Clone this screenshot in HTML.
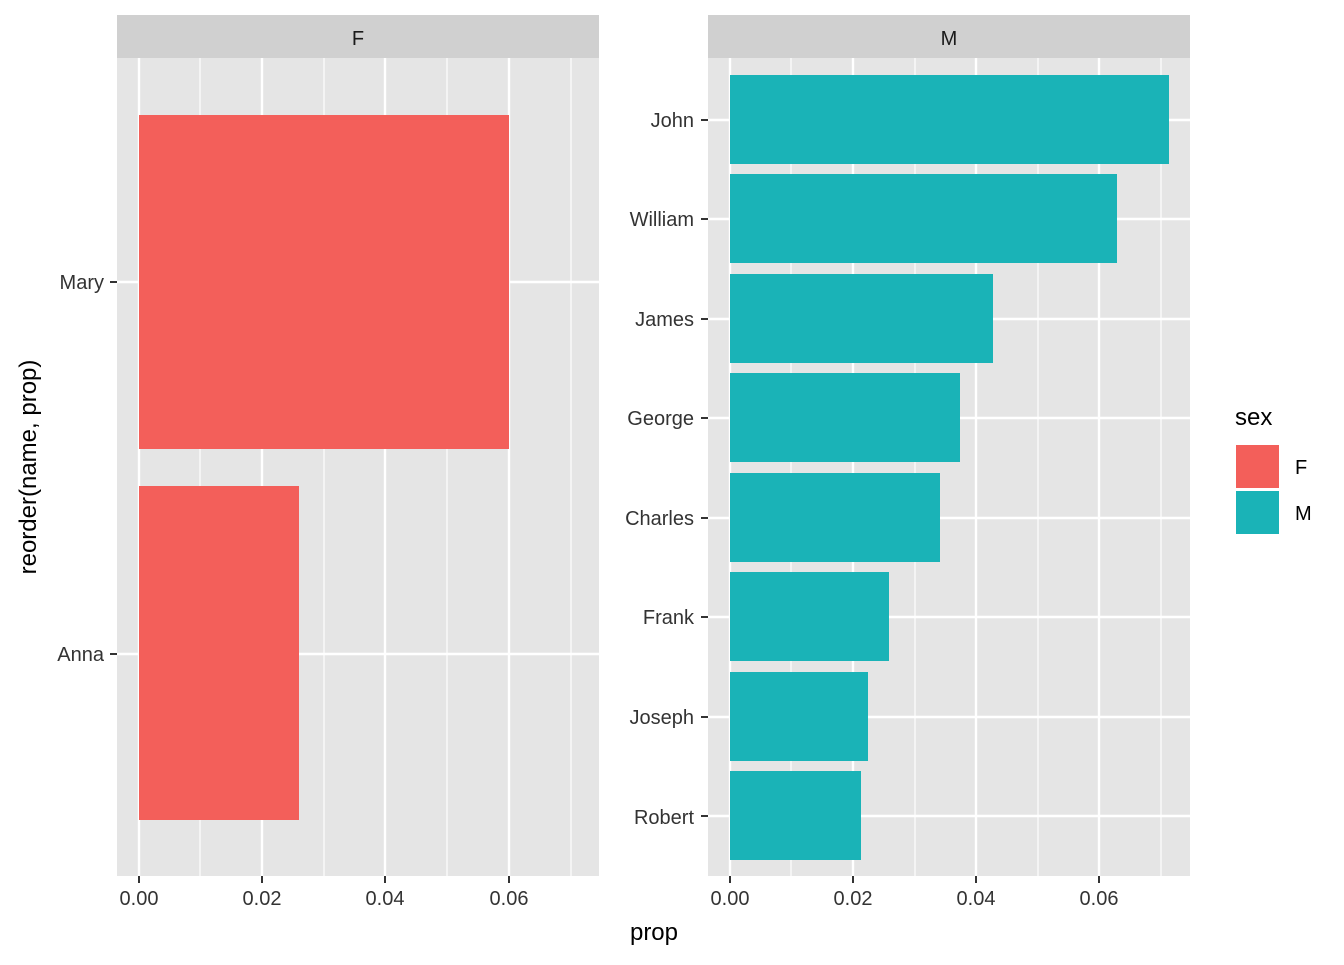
<!DOCTYPE html>
<html><head><meta charset="utf-8"><style>
html,body{margin:0;padding:0;background:#fff}
text{font-family:"Liberation Sans",Arial,sans-serif}
</style></head><body>
<svg width="1344" height="960" viewBox="0 0 1344 960" xmlns="http://www.w3.org/2000/svg">
<rect width="1344" height="960" fill="#fff"/>
<rect x="117" y="15" width="482" height="43" fill="#d0d0d0"/>
<text x="358" y="45" font-size="20" fill="#1a1a1a" text-anchor="middle">F</text>
<rect x="117" y="58" width="482" height="818" fill="#e5e5e5"/>
<g stroke="#fff" stroke-width="1.2">
<line x1="200" y1="58" x2="200" y2="876"/><line x1="324" y1="58" x2="324" y2="876"/><line x1="447" y1="58" x2="447" y2="876"/><line x1="571" y1="58" x2="571" y2="876"/>
</g>
<g stroke="#fff" stroke-width="2.4">
<line x1="139" y1="58" x2="139" y2="876"/><line x1="262" y1="58" x2="262" y2="876"/><line x1="385" y1="58" x2="385" y2="876"/><line x1="509" y1="58" x2="509" y2="876"/>
<line x1="117" y1="282" x2="599" y2="282"/><line x1="117" y1="654" x2="599" y2="654"/>
</g>
<rect x="139" y="115" width="370" height="334" fill="#f35f5a"/>
<rect x="139" y="486" width="160" height="334" fill="#f35f5a"/>
<rect x="708" y="15" width="482" height="43" fill="#d0d0d0"/>
<text x="949" y="45" font-size="20" fill="#1a1a1a" text-anchor="middle">M</text>
<rect x="708" y="58" width="482" height="818" fill="#e5e5e5"/>
<g stroke="#fff" stroke-width="1.2">
<line x1="791" y1="58" x2="791" y2="876"/><line x1="915" y1="58" x2="915" y2="876"/><line x1="1038" y1="58" x2="1038" y2="876"/><line x1="1161" y1="58" x2="1161" y2="876"/>
</g>
<g stroke="#fff" stroke-width="2.4">
<line x1="730" y1="58" x2="730" y2="876"/><line x1="853" y1="58" x2="853" y2="876"/><line x1="976" y1="58" x2="976" y2="876"/><line x1="1099" y1="58" x2="1099" y2="876"/>
<line x1="708" y1="120" x2="1190" y2="120"/><line x1="708" y1="219" x2="1190" y2="219"/><line x1="708" y1="319" x2="1190" y2="319"/><line x1="708" y1="418" x2="1190" y2="418"/><line x1="708" y1="518" x2="1190" y2="518"/><line x1="708" y1="617" x2="1190" y2="617"/><line x1="708" y1="717" x2="1190" y2="717"/><line x1="708" y1="816" x2="1190" y2="816"/>
</g>
<g fill="#1ab3b7">
<rect x="730" y="75" width="439" height="89"/>
<rect x="730" y="174" width="387" height="89"/>
<rect x="730" y="274" width="263" height="89"/>
<rect x="730" y="373" width="230" height="89"/>
<rect x="730" y="473" width="210" height="89"/>
<rect x="730" y="572" width="159" height="89"/>
<rect x="730" y="672" width="138" height="89"/>
<rect x="730" y="771" width="131" height="89"/>
</g>
<g stroke="#333" stroke-width="2">
<line x1="110" y1="282" x2="117" y2="282"/><line x1="110" y1="654" x2="117" y2="654"/>
<line x1="701" y1="120" x2="708" y2="120"/><line x1="701" y1="219" x2="708" y2="219"/><line x1="701" y1="319" x2="708" y2="319"/><line x1="701" y1="418" x2="708" y2="418"/><line x1="701" y1="518" x2="708" y2="518"/><line x1="701" y1="617" x2="708" y2="617"/><line x1="701" y1="717" x2="708" y2="717"/><line x1="701" y1="816" x2="708" y2="816"/>
<line x1="139" y1="876" x2="139" y2="883"/><line x1="262" y1="876" x2="262" y2="883"/><line x1="385" y1="876" x2="385" y2="883"/><line x1="509" y1="876" x2="509" y2="883"/>
<line x1="730" y1="876" x2="730" y2="883"/><line x1="853" y1="876" x2="853" y2="883"/><line x1="976" y1="876" x2="976" y2="883"/><line x1="1099" y1="876" x2="1099" y2="883"/>
</g>
<g font-size="20" fill="#333" text-anchor="end">
<text x="104" y="289">Mary</text><text x="104" y="661">Anna</text>
<text x="694" y="127">John</text><text x="694" y="226">William</text><text x="694" y="326">James</text><text x="694" y="425">George</text><text x="694" y="525">Charles</text><text x="694" y="624">Frank</text><text x="694" y="724">Joseph</text><text x="694" y="824">Robert</text>
</g>
<g font-size="20" fill="#333" text-anchor="middle">
<text x="139" y="905">0.00</text><text x="262" y="905">0.02</text><text x="385" y="905">0.04</text><text x="509" y="905">0.06</text>
<text x="730" y="905">0.00</text><text x="853" y="905">0.02</text><text x="976" y="905">0.04</text><text x="1099" y="905">0.06</text>
</g>
<text x="654" y="940" font-size="24" fill="#000" text-anchor="middle">prop</text>
<text transform="translate(36,467) rotate(-90)" font-size="24" fill="#000" text-anchor="middle">reorder(name, prop)</text>
<text x="1235" y="425" font-size="24" fill="#000">sex</text>
<rect x="1235" y="444" width="45" height="45" fill="#f35f5a" stroke="#fff" stroke-width="2"/>
<rect x="1235" y="490" width="45" height="45" fill="#1ab3b7" stroke="#fff" stroke-width="2"/>
<text x="1295" y="474" font-size="20" fill="#000">F</text>
<text x="1295" y="520" font-size="20" fill="#000">M</text>
</svg>
</body></html>
